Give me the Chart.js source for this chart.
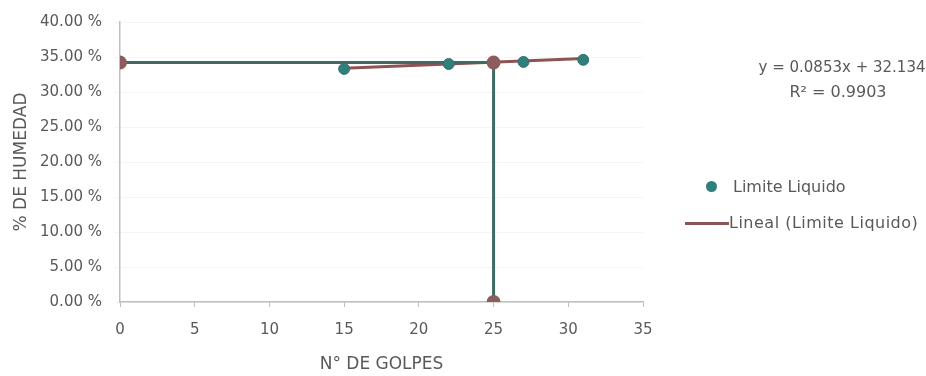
<!DOCTYPE html>
<html>
<head>
<meta charset="utf-8">
<script src="https://cdn.jsdelivr.net/npm/chart.js@4.4.1/dist/chart.umd.min.js"></script>
<style>
    body { margin: 0; background: #fff; }
    /* contenedor del gráfico */
    .wrap { position: relative; width: 926px; height: 376px; }
    .txt { position: absolute; font-family: "DejaVu Sans", sans-serif; font-size: 16px; color: #595959; white-space: nowrap; line-height: 1; }
    .eq { text-align: center; }
    .dot { position: absolute; width: 11px; height: 11px; border-radius: 50%; background: #2f7f7b; }
    .lin { position: absolute; height: 3px; background: #8c5454; }
</style>
</head>
<body>
<div class="wrap">
    <canvas id="llChart" width="926" height="376"></canvas>
    <div class="txt eq" style="left:758px; top:60px; width:168px; font-size:15px;">y = 0.0853x + 32.134</div>
    <div class="txt eq" style="left:778px; top:84px; width:120px;">R² = 0.9903</div>
    <div class="dot" style="left:706px; top:181px;"></div>
    <div class="txt" style="left:733px; top:179px;">Limite Liquido</div>
    <div class="lin" style="left:685px; top:222px; width:44px;"></div>
    <div class="txt" style="left:729px; top:215px; letter-spacing:0.5px;">Lineal (Limite Liquido)</div>
</div>
<script>
    // datos
    const golpes = [15, 22, 27, 31];
    const humedad = [33.3, 34.0, 34.3, 34.6];
    // línea de tendencia (extremos)
    const tendX = [15, 31];
    const tendY = [33.4, 34.8];
    // línea de referencia a 25 golpes
    const refX = [0, 25, 25];
    const refY = [34.2, 34.2, 0];
    const yTicks = [0, 5, 10, 15, 20, 25, 30, 35, 40];

    const toPts = (xs, ys) => xs.map((x, i) => ({ x: x, y: ys[i] }));
    const tickFont = { family: 'DejaVu Sans', size: 15 };
    const titleFont = { family: 'DejaVu Sans', size: 17 };

    const ctx = document.getElementById('llChart').getContext('2d');
    new Chart(ctx, {
        type: 'scatter',
        data: {
            datasets: [{
                label: 'Limite Liquido',
                data: toPts(golpes, humedad),
                backgroundColor: '#2f7f7b',
                borderColor: '#3b6f70',
                borderWidth: 1,
                pointRadius: 5.5,
                order: 0
            }, {
                label: 'Referencia',
                data: toPts(refX, refY),
                showLine: true,
                borderColor: '#3e6b63',
                borderWidth: 3,
                backgroundColor: '#8d5d5d',
                pointBorderColor: '#8d5d5d',
                pointRadius: 5.5,
                order: 1
            }, {
                label: 'Lineal (Limite Liquido)',
                data: toPts(tendX, tendY),
                showLine: true,
                borderColor: '#8c5454',
                borderWidth: 3,
                pointRadius: 0,
                order: 2
            }]
        },
        options: {
            responsive: false,
            animation: false,
            layout: { padding: { left: 0, right: 283, top: 22, bottom: 0 } },
            plugins: { legend: { display: false }, tooltip: { enabled: false } },
            scales: {
                x: {
                    type: 'linear',
                    min: 0, max: 35,
                    ticks: { stepSize: 5, color: '#595959', font: tickFont, padding: 14 },
                    grid: { display: true, drawOnChartArea: false, tickLength: 5, color: '#bfbfbf' },
                    border: { color: '#bfbfbf', width: 1.5 },
                    title: { display: true, text: 'N° DE GOLPES', color: '#595959', font: titleFont, padding: { top: 0, bottom: 1 } },
                    afterFit: (s) => { s.height = 74; }
                },
                y: {
                    min: 0, max: 40,
                    afterBuildTicks: (s) => { s.ticks = yTicks.map(v => ({ value: v })); },
                    ticks: { color: '#595959', font: tickFont, padding: 13, callback: (v) => v.toFixed(2) + ' %' },
                    grid: { color: 'rgba(0,0,0,0.04)', tickLength: 5 },
                    border: { color: '#bfbfbf', width: 1.5 },
                    title: { display: true, text: '% DE HUMEDAD', color: '#595959', font: titleFont, padding: { top: 11, bottom: 0 } },
                    afterFit: (s) => { s.width = 120; }
                }
            }
        }
    });
</script>
</body>
</html>
